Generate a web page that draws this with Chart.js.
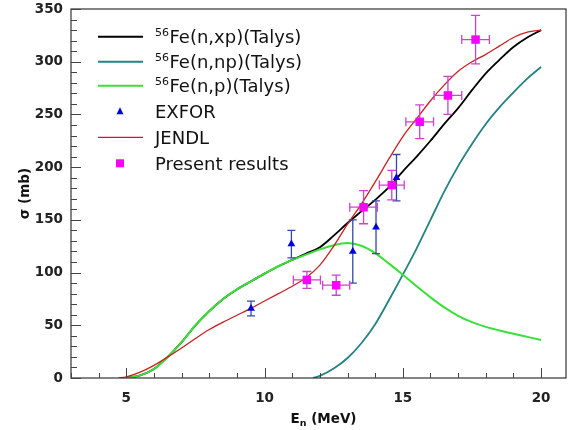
<!DOCTYPE html>
<html><head><meta charset="utf-8">
<script src="https://cdn.jsdelivr.net/npm/chart.js@4.4.1/dist/chart.umd.min.js"></script>
<style>html,body{margin:0;padding:0;background:#fff}#wrap{width:573px;height:430px}</style>
</head><body><div id="wrap"><canvas id="c" width="573" height="430"></canvas></div>
<script>
// ---- data ----
const xpEnergy = [5,5.5,6,6.5,7,7.5,8,8.5,9,9.5,10,10.5,11,11.5,12,12.5,13,13.5,14,14.5,15,15.5,16,16.5,17,17.5,18,18.5,19,19.5,20];
const xpSigma  = [0,2.5,8.5,20,34,50,63.5,75,84,91.5,99,106,112,118,124,135,147,158,169,181,196,210,225,241,256,273,289,302,314,323,330];

const npEnergy = [11.75,12,12.5,13,13.5,14,14.5,15,15.5,16,16.5,17,17.5,18,18.5,19,19.5,20];
const npSigma  = [0,2,9,19,33,51,74,98,123,150,177,201,222,241,257,271,284,295];

const pEnergy = [5,5.5,6,6.5,7,7.5,8,8.5,9,9.5,10,10.5,11,11.5,12,12.5,13,13.5,14,14.5,15,15.5,16,16.5,17,17.5,18,18.5,19,19.5,20];
const pSigma  = [0,2.5,8.5,20,34,50,63.5,75,84,91.5,99,106,112,117,122,126,128,125.5,118.5,108.5,98,87,76.5,67,59,53,48.5,45,42,39,36];

const jendlEnergy = [4.73,5,5.5,6,6.5,7,7.5,8,8.5,9,9.5,10,10.5,11,11.5,12,12.5,13,13.5,14,14.5,15,15.5,16,16.5,17,17.5,18,18.5,19,19.5,20];
const jendlSigma  = [0,1,5.5,12,20,28.5,37.5,46,53,59.5,66,73,80,87,95,107,125,146,165,186,208,229,246,263,278,291,300,307,315,323,328,330];

const exforEnergy = [9.51,10.97,13.19,14.03,14.77];
const exforSigma  = [66,127,120,143,190];
const exforSigmaErr = [7,13,30,25,22];

const presentEnergy = [11.53,12.59,13.58,14.6,15.61,16.63,17.63];
const presentEnergyErr = [0.49,0.49,0.5,0.45,0.5,0.5,0.5];
const presentSigma  = [93,88,162,183,243,268,321];
const presentSigmaErr = [8,9.5,15.7,14,16,18,23];

const xTickLabels = [5,10,15,20];
const yTickLabels = [0,50,100,150,200,250,300,350];
const xMinorStep = 1, yMinorStep = 10;

const legendLabels = [
  {sup:'56', text:'Fe(n,xp)(Talys)'},
  {sup:'56', text:'Fe(n,np)(Talys)'},
  {sup:'56', text:'Fe(n,p)(Talys)'},
  {sup:'', text:'EXFOR'},
  {sup:'', text:'JENDL'},
  {sup:'', text:'Present results'}
];

const pts = (xs, ys) => xs.map((x, i) => ({x, y: ys[i]}));

const C_BLACK = '#000000', C_TEAL = '#238282', C_GREEN = '#3ae03a', C_RED = '#c82020',
      C_MAG = '#ff00ff', C_MAGERR = '#cc44cc', C_BLUE = '#0000dd', C_BLUEERR = '#3848a8';

const lineDs = (label, xs, ys, color, w) => ({
  label, data: pts(xs, ys), showLine: true, pointRadius: 0, borderColor: color,
  backgroundColor: color, borderWidth: w, cubicInterpolationMode: 'monotone', fill: false
});

const errorBars = {
  id: 'errorBars',
  beforeDatasetDraw(chart, args) {
    const ds = chart.data.datasets[args.index];
    if (!ds.errY) return;
    const {ctx, scales: {x, y}} = chart;
    ctx.save();
    ctx.strokeStyle = ds.errColor; ctx.lineWidth = 1.3;
    ds.data.forEach((p, i) => {
      const px = x.getPixelForValue(p.x), py = y.getPixelForValue(p.y);
      const yt = y.getPixelForValue(p.y + ds.errY[i]), yb = y.getPixelForValue(p.y - ds.errY[i]);
      const c = ds.cap / 2;
      ctx.beginPath();
      ctx.moveTo(px, yt); ctx.lineTo(px, yb);
      ctx.moveTo(px - c, yt); ctx.lineTo(px + c, yt);
      ctx.moveTo(px - c, yb); ctx.lineTo(px + c, yb);
      if (ds.errX) {
        const xl = x.getPixelForValue(p.x - ds.errX[i]), xr = x.getPixelForValue(p.x + ds.errX[i]);
        ctx.moveTo(xl, py); ctx.lineTo(xr, py);
        ctx.moveTo(xl, py - c); ctx.lineTo(xl, py + c);
        ctx.moveTo(xr, py - c); ctx.lineTo(xr, py + c);
      }
      ctx.stroke();
    });
    ctx.restore();
  }
};

const frameTicks = {
  id: 'frameTicks',
  afterDatasetsDraw(chart) {
    const {ctx, chartArea: a, scales: {x, y}} = chart;
    ctx.save();
    ctx.strokeStyle = '#333'; ctx.lineWidth = 1.2;
    ctx.strokeRect(a.left, a.top, a.right - a.left, a.bottom - a.top);
    ctx.strokeStyle = '#444'; ctx.lineWidth = 1;
    ctx.beginPath();
    for (let v = Math.ceil(x.min); v <= x.max + 1e-9; v += xMinorStep) {
      const px = Math.round(x.getPixelForValue(v)) + 0.5;
      const len = xTickLabels.includes(v) ? 10 : 5;
      ctx.moveTo(px, a.bottom); ctx.lineTo(px, a.bottom - len);
    }
    for (let v = y.min; v <= y.max + 1e-9; v += yMinorStep) {
      const py = Math.round(y.getPixelForValue(v)) + 0.5;
      const len = yTickLabels.includes(v) ? 10 : 6;
      ctx.moveTo(a.left, py); ctx.lineTo(a.left + len, py);
    }
    ctx.stroke();

    // x-axis title with subscript
    ctx.fillStyle = '#111';
    const big = 'bold 13.5px "DejaVu Sans"', small = 'bold 9.5px "DejaVu Sans"';
    ctx.font = big; const wE = ctx.measureText('E').width;
    ctx.font = small; const wn = ctx.measureText('n').width;
    ctx.font = big; const wR = ctx.measureText(' (MeV)').width;
    let tx = (a.left + a.right) / 2 + 5 - (wE + wn + wR) / 2;
    const by = 423;
    ctx.textBaseline = 'alphabetic'; ctx.textAlign = 'left';
    ctx.fillText('E', tx, by); tx += wE;
    ctx.font = small; ctx.fillText('n', tx, by + 2.5); tx += wn;
    ctx.font = big; ctx.fillText(' (MeV)', tx, by);

    // legend
    const rows = [36.7, 61.7, 85.7, 111.7, 137.3, 163.3];
    const marks = [
      {kind:'line', color:C_BLACK, w:2},
      {kind:'line', color:C_TEAL, w:2},
      {kind:'line', color:C_GREEN, w:2},
      {kind:'tri', color:C_BLUE},
      {kind:'line', color:C_RED, w:1.2},
      {kind:'sq', color:C_MAG}
    ];
    legendLabels.forEach((item, i) => {
      const ry = rows[i], m = marks[i];
      if (m.kind === 'line') {
        ctx.strokeStyle = m.color; ctx.lineWidth = m.w;
        ctx.beginPath(); ctx.moveTo(98, ry); ctx.lineTo(143, ry); ctx.stroke();
      } else if (m.kind === 'tri') {
        ctx.fillStyle = m.color;
        ctx.beginPath(); ctx.moveTo(120, ry - 4.5); ctx.lineTo(123.5, ry + 2.5); ctx.lineTo(116.5, ry + 2.5); ctx.closePath(); ctx.fill();
      } else {
        ctx.fillStyle = m.color; ctx.fillRect(116, ry - 4, 8, 8);
      }
      ctx.fillStyle = '#111';
      let lx = 155;
      if (item.sup) {
        ctx.font = '11px "DejaVu Sans"';
        ctx.fillText(item.sup, lx, ry - 1);
        lx += ctx.measureText(item.sup).width + 0.5;
      }
      ctx.font = '18px "DejaVu Sans"';
      ctx.fillText(item.text, lx, ry + 6.5);
    });
    ctx.restore();
  }
};

const tickFont = {family: 'DejaVu Sans', size: 13.5, weight: 'bold'};
const zeroPad = ax => { ax.paddingTop = 0; ax.paddingBottom = 0; ax.paddingLeft = 0; ax.paddingRight = 0; };

new Chart(document.getElementById('c'), {
  type: 'scatter',
  data: { datasets: [
    {label:'Present results', data: pts(presentEnergy, presentSigma), pointStyle:'rect', pointRadius:6,
     backgroundColor:C_MAG, borderColor:C_MAG, borderWidth:0, errX: presentEnergyErr, errY: presentSigmaErr, errColor: C_MAGERR, cap: 9},
    {label:'EXFOR', data: pts(exforEnergy, exforSigma), pointStyle:'triangle', pointRadius:4.5,
     backgroundColor:C_BLUE, borderColor:C_BLUE, borderWidth:0, errY: exforSigmaErr, errColor: C_BLUEERR, cap: 8},
    lineDs('JENDL', jendlEnergy, jendlSigma, C_RED, 1.3),
    lineDs('56Fe(n,p)(Talys)', pEnergy, pSigma, C_GREEN, 2),
    lineDs('56Fe(n,np)(Talys)', npEnergy, npSigma, C_TEAL, 1.8),
    lineDs('56Fe(n,xp)(Talys)', xpEnergy, xpSigma, C_BLACK, 1.8)
  ]},
  options: {
    responsive: false, animation: false, devicePixelRatio: 1, events: [],
    layout: {padding: {left: 0, top: 9, right: 7, bottom: 0}},
    plugins: {legend: {display: false}, tooltip: {enabled: false}},
    scales: {
      x: {
        type: 'linear', min: 3, max: 20.9,
        grid: {display: false, drawTicks: false}, border: {display: false},
        ticks: {font: tickFont, color: '#222', padding: 12, maxRotation: 0, autoSkip: false},
        afterBuildTicks: ax => { ax.ticks = xTickLabels.map(v => ({value: v})); },
        afterFit: ax => { ax.height = 52; zeroPad(ax); }
      },
      y: {
        type: 'linear', min: 0, max: 350,
        grid: {display: false, drawTicks: false}, border: {display: false},
        ticks: {font: tickFont, color: '#222', padding: 8, autoSkip: false},
        afterBuildTicks: ax => { ax.ticks = yTickLabels.map(v => ({value: v})); },
        afterFit: ax => { ax.width = 71; zeroPad(ax); },
        title: {display: true, text: 'σ (mb)', font: {family: 'DejaVu Sans', size: 13.5, weight: 'bold'}, color: '#111', padding: {top: 17, bottom: 0}}
      }
    }
  },
  plugins: [errorBars, frameTicks]
});
</script>
</body></html>
